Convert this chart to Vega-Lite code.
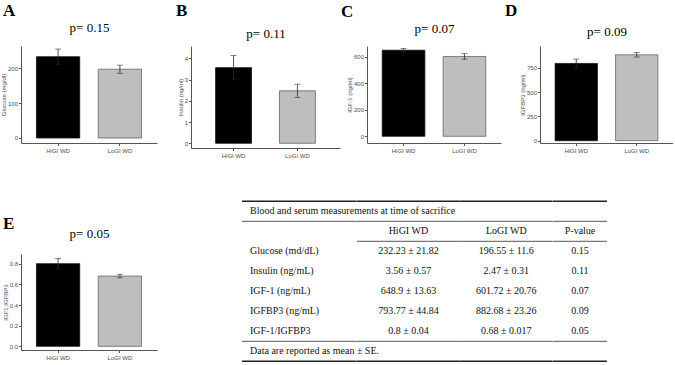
{
  "$schema": "https://vega.github.io/schema/vega-lite/v6.json",
  "background": "white",
  "padding": {"left": 0, "top": 2, "right": 0, "bottom": 0},
  "datasets": {
    "bars": [
      {"panel": "A", "group": "HiGI WD", "mean": 232.23, "lo": 210.41, "hi": 254.05},
      {"panel": "A", "group": "LoGI WD", "mean": 196.55, "lo": 184.95, "hi": 208.15},
      {"panel": "B", "group": "HiGI WD", "mean": 3.56, "lo": 2.99, "hi": 4.13},
      {"panel": "B", "group": "LoGI WD", "mean": 2.47, "lo": 2.16, "hi": 2.78},
      {"panel": "C", "group": "HiGI WD", "mean": 648.9, "lo": 635.27, "hi": 662.53},
      {"panel": "C", "group": "LoGI WD", "mean": 601.72, "lo": 580.96, "hi": 622.48},
      {"panel": "D", "group": "HiGI WD", "mean": 793.77, "lo": 748.93, "hi": 838.61},
      {"panel": "D", "group": "LoGI WD", "mean": 882.68, "lo": 859.42, "hi": 905.94},
      {"panel": "E", "group": "HiGI WD", "mean": 0.8, "lo": 0.75, "hi": 0.85},
      {"panel": "E", "group": "LoGI WD", "mean": 0.68, "lo": 0.663, "hi": 0.697}
    ],
    "table": [
      {"row": "title", "label": "Blood and serum measurements at time of sacrifice", "hi": "", "lo": "", "p": ""},
      {"row": "header", "label": "", "hi": "HiGI WD", "lo": "LoGI WD", "p": "P-value"},
      {"row": "glucose", "label": "Glucose (md/dL)", "hi": "232.23 ±  21.82", "lo": "196.55 ± 11.6", "p": "0.15"},
      {"row": "insulin", "label": "Insulin (ng/mL)", "hi": "3.56 ± 0.57", "lo": "2.47 ±  0.31", "p": "0.11"},
      {"row": "igf1", "label": "IGF-1 (ng/mL)", "hi": "648.9 ± 13.63", "lo": "601.72 ± 20.76", "p": "0.07"},
      {"row": "igfbp3", "label": "IGFBP3 (ng/mL)", "hi": "793.77 ± 44.84", "lo": "882.68 ±  23.26", "p": "0.09"},
      {"row": "ratio", "label": "IGF-1/IGFBP3", "hi": "0.8 ± 0.04", "lo": "0.68 ± 0.017", "p": "0.05"},
      {"row": "note", "label": "Data are reported as mean ± SE.", "hi": "", "lo": "", "p": ""}
    ]
  },
  "bounds": "flush",
  "spacing": 155.3,
  "vconcat": [
    {
      "bounds": "flush",
      "spacing": 346,
      "hconcat": [
        {
          "bounds": "flush",
          "spacing": 34,
          "hconcat": [
            {
              "width": 136, "height": 97,
              "data": {"name": "bars"},
              "transform": [{"filter": "datum.panel === 'A'"}],
              "title": {"text": "A", "dx": -18},
              "layer": [
                {"mark": {"type": "bar", "strokeWidth": 0.8},
                 "encoding": {
                   "x": {"field": "group", "type": "nominal", "scale": {"paddingInner": 0.3, "paddingOuter": 0.25}, "axis": {"orient": "top", "title": "p= 0.15", "labels": false, "ticks": false, "domain": false, "titleFont": "Liberation Serif", "titleFontWeight": "normal", "titleFontSize": 13, "titleColor": "#000", "titlePadding": 11.5}},
                   "y": {"field": "mean", "type": "quantitative", "scale": {"domain": [-14.3, 262.9], "nice": false, "zero": false}, "axis": {"values": [0, 100, 200], "labelOverlap": false, "title": "Glucose (mg/dl)"}},
                   "y2": {"datum": 0},
                   "color": {"field": "group", "type": "nominal", "scale": {"range": ["#000000", "#bebebe"]}, "legend": null},
                   "stroke": {"field": "group", "type": "nominal", "scale": {"range": ["#111111", "#666666"]}, "legend": null}
                 }},
                {"mark": {"type": "rule", "color": "#2a2a2a", "strokeWidth": 0.8},
                 "encoding": {
                   "x": {"field": "group", "type": "nominal", "axis": {"title": null}},
                   "y": {"field": "lo", "type": "quantitative", "scale": {"domain": [-14.3, 262.9], "nice": false, "zero": false}, "axis": {"values": [0, 100, 200], "labelOverlap": false, "title": "Glucose (mg/dl)"}},
                   "y2": {"field": "hi"}
                 }},
                {"mark": {"type": "tick", "orient": "horizontal", "color": "#2a2a2a", "size": 6, "thickness": 0.8},
                 "encoding": {
                   "x": {"field": "group", "type": "nominal", "axis": null},
                   "y": {"field": "hi", "type": "quantitative", "scale": {"domain": [-14.3, 262.9], "nice": false, "zero": false}, "axis": {"values": [0, 100, 200], "labelOverlap": false, "title": "Glucose (mg/dl)"}}
                 }},
                {"mark": {"type": "tick", "orient": "horizontal", "color": "#2a2a2a", "size": 6, "thickness": 0.8},
                 "encoding": {
                   "x": {"field": "group", "type": "nominal", "axis": null},
                   "y": {"field": "lo", "type": "quantitative", "scale": {"domain": [-14.3, 262.9], "nice": false, "zero": false}, "axis": {"values": [0, 100, 200], "labelOverlap": false, "title": "Glucose (mg/dl)"}}
                 }}
              ],
              "resolve": {"axis": {"x": "independent"}}
            },
            {
              "width": 149, "height": 102,
              "data": {"name": "bars"},
              "transform": [{"filter": "datum.panel === 'B'"}],
              "title": {"text": "B", "dx": -15, "offset": 7.5},
              "layer": [
                {"mark": {"type": "bar", "strokeWidth": 0.8},
                 "encoding": {
                   "x": {"field": "group", "type": "nominal", "scale": {"paddingInner": 0.4375, "paddingOuter": 0.385}, "axis": {"orient": "top", "title": "p= 0.11", "labels": false, "ticks": false, "domain": false, "titleFont": "Liberation Serif", "titleFontWeight": "normal", "titleFontSize": 13, "titleColor": "#000", "titlePadding": 5.5}},
                   "y": {"field": "mean", "type": "quantitative", "scale": {"domain": [-0.221, 4.579], "nice": false, "zero": false}, "axis": {"values": [0, 1, 2, 3, 4], "labelOverlap": false, "title": "Insulin (ng/ml)"}},
                   "y2": {"datum": 0},
                   "color": {"field": "group", "type": "nominal", "scale": {"range": ["#000000", "#bebebe"]}, "legend": null},
                   "stroke": {"field": "group", "type": "nominal", "scale": {"range": ["#111111", "#666666"]}, "legend": null}
                 }},
                {"mark": {"type": "rule", "color": "#2a2a2a", "strokeWidth": 0.8},
                 "encoding": {
                   "x": {"field": "group", "type": "nominal", "axis": {"title": null}},
                   "y": {"field": "lo", "type": "quantitative", "scale": {"domain": [-0.221, 4.579], "nice": false, "zero": false}, "axis": {"values": [0, 1, 2, 3, 4], "labelOverlap": false, "title": "Insulin (ng/ml)"}},
                   "y2": {"field": "hi"}
                 }},
                {"mark": {"type": "tick", "orient": "horizontal", "color": "#2a2a2a", "size": 6, "thickness": 0.8},
                 "encoding": {
                   "x": {"field": "group", "type": "nominal", "axis": null},
                   "y": {"field": "hi", "type": "quantitative", "scale": {"domain": [-0.221, 4.579], "nice": false, "zero": false}, "axis": {"values": [0, 1, 2, 3, 4], "labelOverlap": false, "title": "Insulin (ng/ml)"}}
                 }},
                {"mark": {"type": "tick", "orient": "horizontal", "color": "#2a2a2a", "size": 6, "thickness": 0.8},
                 "encoding": {
                   "x": {"field": "group", "type": "nominal", "axis": null},
                   "y": {"field": "lo", "type": "quantitative", "scale": {"domain": [-0.221, 4.579], "nice": false, "zero": false}, "axis": {"values": [0, 1, 2, 3, 4], "labelOverlap": false, "title": "Insulin (ng/ml)"}}
                 }}
              ],
              "resolve": {"axis": {"x": "independent"}}
            }
          ]
        },
        {
          "bounds": "flush",
          "spacing": 39,
          "hconcat": [
            {
              "width": 134, "height": 97,
              "data": {"name": "bars"},
              "transform": [{"filter": "datum.panel === 'C'"}],
              "title": {"text": "C", "dx": -26},
              "layer": [
                {"mark": {"type": "bar", "strokeWidth": 0.8},
                 "encoding": {
                   "x": {"field": "group", "type": "nominal", "scale": {"paddingInner": 0.3, "paddingOuter": 0.25}, "axis": {"orient": "top", "title": "p= 0.07", "labels": false, "ticks": false, "domain": false, "titleFont": "Liberation Serif", "titleFontWeight": "normal", "titleFontSize": 13, "titleColor": "#000", "titlePadding": 11}},
                   "y": {"field": "mean", "type": "quantitative", "scale": {"domain": [-50.5, 680.5], "nice": false, "zero": false}, "axis": {"values": [0, 200, 400, 600], "labelOverlap": false, "title": "IGF-1 (ng/ml)"}},
                   "y2": {"datum": 0},
                   "color": {"field": "group", "type": "nominal", "scale": {"range": ["#000000", "#bebebe"]}, "legend": null},
                   "stroke": {"field": "group", "type": "nominal", "scale": {"range": ["#111111", "#666666"]}, "legend": null}
                 }},
                {"mark": {"type": "rule", "color": "#2a2a2a", "strokeWidth": 0.8},
                 "encoding": {
                   "x": {"field": "group", "type": "nominal", "axis": {"title": null}},
                   "y": {"field": "lo", "type": "quantitative", "scale": {"domain": [-50.5, 680.5], "nice": false, "zero": false}, "axis": {"values": [0, 200, 400, 600], "labelOverlap": false, "title": "IGF-1 (ng/ml)"}},
                   "y2": {"field": "hi"}
                 }},
                {"mark": {"type": "tick", "orient": "horizontal", "color": "#2a2a2a", "size": 6, "thickness": 0.8},
                 "encoding": {
                   "x": {"field": "group", "type": "nominal", "axis": null},
                   "y": {"field": "hi", "type": "quantitative", "scale": {"domain": [-50.5, 680.5], "nice": false, "zero": false}, "axis": {"values": [0, 200, 400, 600], "labelOverlap": false, "title": "IGF-1 (ng/ml)"}}
                 }},
                {"mark": {"type": "tick", "orient": "horizontal", "color": "#2a2a2a", "size": 6, "thickness": 0.8},
                 "encoding": {
                   "x": {"field": "group", "type": "nominal", "axis": null},
                   "y": {"field": "lo", "type": "quantitative", "scale": {"domain": [-50.5, 680.5], "nice": false, "zero": false}, "axis": {"values": [0, 200, 400, 600], "labelOverlap": false, "title": "IGF-1 (ng/ml)"}}
                 }}
              ],
              "resolve": {"axis": {"x": "independent"}}
            },
            {
              "width": 133, "height": 97,
              "data": {"name": "bars"},
              "transform": [{"filter": "datum.panel === 'D'"}],
              "title": {"text": "D", "dx": -35, "offset": 5.5},
              "layer": [
                {"mark": {"type": "bar", "strokeWidth": 0.8},
                 "encoding": {
                   "x": {"field": "group", "type": "nominal", "scale": {"paddingInner": 0.3, "paddingOuter": 0.25}, "axis": {"orient": "top", "title": "p= 0.09", "labels": false, "ticks": false, "domain": false, "titleFont": "Liberation Serif", "titleFontWeight": "normal", "titleFontSize": 13, "titleColor": "#000", "titlePadding": 7.5}},
                   "y": {"field": "mean", "type": "quantitative", "scale": {"domain": [-23.6, 972.9], "nice": false, "zero": false}, "axis": {"values": [0, 250, 500, 750], "labelOverlap": false, "title": "IGFBP3 (ng/ml)"}},
                   "y2": {"datum": 0},
                   "color": {"field": "group", "type": "nominal", "scale": {"range": ["#000000", "#bebebe"]}, "legend": null},
                   "stroke": {"field": "group", "type": "nominal", "scale": {"range": ["#111111", "#666666"]}, "legend": null}
                 }},
                {"mark": {"type": "rule", "color": "#2a2a2a", "strokeWidth": 0.8},
                 "encoding": {
                   "x": {"field": "group", "type": "nominal", "axis": {"title": null}},
                   "y": {"field": "lo", "type": "quantitative", "scale": {"domain": [-23.6, 972.9], "nice": false, "zero": false}, "axis": {"values": [0, 250, 500, 750], "labelOverlap": false, "title": "IGFBP3 (ng/ml)"}},
                   "y2": {"field": "hi"}
                 }},
                {"mark": {"type": "tick", "orient": "horizontal", "color": "#2a2a2a", "size": 6, "thickness": 0.8},
                 "encoding": {
                   "x": {"field": "group", "type": "nominal", "axis": null},
                   "y": {"field": "hi", "type": "quantitative", "scale": {"domain": [-23.6, 972.9], "nice": false, "zero": false}, "axis": {"values": [0, 250, 500, 750], "labelOverlap": false, "title": "IGFBP3 (ng/ml)"}}
                 }},
                {"mark": {"type": "tick", "orient": "horizontal", "color": "#2a2a2a", "size": 6, "thickness": 0.8},
                 "encoding": {
                   "x": {"field": "group", "type": "nominal", "axis": null},
                   "y": {"field": "lo", "type": "quantitative", "scale": {"domain": [-23.6, 972.9], "nice": false, "zero": false}, "axis": {"values": [0, 250, 500, 750], "labelOverlap": false, "title": "IGFBP3 (ng/ml)"}}
                 }}
              ],
              "resolve": {"axis": {"x": "independent"}}
            }
          ]
        }
      ]
    },
    {
      "bounds": "flush",
      "spacing": 221,
      "hconcat": [
        {
          "bounds": "flush",
          "spacing": 32.7,
          "vconcat": [
            {
              "width": 136, "height": 20,
              "data": {"values": [{"s": ""}]},
              "mark": {"type": "text"},
              "encoding": {"text": {"field": "s"}}
            },
            {
              "width": 136, "height": 96,
              "data": {"name": "bars"},
              "transform": [{"filter": "datum.panel === 'E'"}],
              "title": {"text": "E", "dx": -18, "offset": -5.5},
              "layer": [
                {"mark": {"type": "bar", "strokeWidth": 0.8},
                 "encoding": {
                   "x": {"field": "group", "type": "nominal", "scale": {"paddingInner": 0.3, "paddingOuter": 0.25}, "axis": {"orient": "top", "title": "p= 0.05", "labels": false, "ticks": false, "domain": false, "titleFont": "Liberation Serif", "titleFontWeight": "normal", "titleFontSize": 13, "titleColor": "#000", "titlePadding": 14}},
                   "y": {"field": "mean", "type": "quantitative", "scale": {"domain": [-0.0358, 0.894], "nice": false, "zero": false}, "axis": {"values": [0, 0.2, 0.4, 0.6, 0.8], "format": ".1f", "labelOverlap": false, "title": "IGF1:IGFBP3"}},
                   "y2": {"datum": 0},
                   "color": {"field": "group", "type": "nominal", "scale": {"range": ["#000000", "#bebebe"]}, "legend": null},
                   "stroke": {"field": "group", "type": "nominal", "scale": {"range": ["#111111", "#666666"]}, "legend": null}
                 }},
                {"mark": {"type": "rule", "color": "#2a2a2a", "strokeWidth": 0.8},
                 "encoding": {
                   "x": {"field": "group", "type": "nominal", "axis": {"title": null}},
                   "y": {"field": "lo", "type": "quantitative", "scale": {"domain": [-0.0358, 0.894], "nice": false, "zero": false}, "axis": {"values": [0, 0.2, 0.4, 0.6, 0.8], "format": ".1f", "labelOverlap": false, "title": "IGF1:IGFBP3"}},
                   "y2": {"field": "hi"}
                 }},
                {"mark": {"type": "tick", "orient": "horizontal", "color": "#2a2a2a", "size": 6, "thickness": 0.8},
                 "encoding": {
                   "x": {"field": "group", "type": "nominal", "axis": null},
                   "y": {"field": "hi", "type": "quantitative", "scale": {"domain": [-0.0358, 0.894], "nice": false, "zero": false}, "axis": {"values": [0, 0.2, 0.4, 0.6, 0.8], "format": ".1f", "labelOverlap": false, "title": "IGF1:IGFBP3"}}
                 }},
                {"mark": {"type": "tick", "orient": "horizontal", "color": "#2a2a2a", "size": 6, "thickness": 0.8},
                 "encoding": {
                   "x": {"field": "group", "type": "nominal", "axis": null},
                   "y": {"field": "lo", "type": "quantitative", "scale": {"domain": [-0.0358, 0.894], "nice": false, "zero": false}, "axis": {"values": [0, 0.2, 0.4, 0.6, 0.8], "format": ".1f", "labelOverlap": false, "title": "IGF1:IGFBP3"}}
                 }}
              ],
              "resolve": {"axis": {"x": "independent"}}
            }
          ]
        },
        {
          "bounds": "flush",
          "spacing": 0,
          "hconcat": [
            {
              "width": 114.6, "height": 160,
              "data": {"name": "table"},
              "layer": [
                {"mark": {"type": "text", "align": "left", "baseline": "middle", "font": "Liberation Serif", "fontSize": 10, "color": "#111111"},
                 "encoding": {
                   "x": {"datum": 0, "type": "quantitative", "scale": {"domain": [-8, 106.6]}, "axis": null},
                   "y": {"field": "row", "type": "nominal", "scale": {"type": "band", "domain": ["title", "header", "glucose", "insulin", "igf1", "igfbp3", "ratio", "note"], "paddingInner": 0, "paddingOuter": 0}, "axis": null},
                   "text": {"field": "label"}
                 }},
                {"transform": [{"filter": "datum.row === 'title'"}],
                 "mark": {"type": "rule", "strokeWidth": 1.6, "color": "#222222"},
                 "encoding": {"y": {"field": "row", "type": "nominal", "bandPosition": 0}}},
                {"transform": [{"filter": "datum.row === 'header' || datum.row === 'note'"}],
                 "mark": {"type": "rule", "strokeWidth": 1, "color": "#555555"},
                 "encoding": {"y": {"field": "row", "type": "nominal", "bandPosition": 0}}},
                {"transform": [{"filter": "datum.row === 'note'"}],
                 "mark": {"type": "rule", "strokeWidth": 1.6, "color": "#222222"},
                 "encoding": {"y": {"field": "row", "type": "nominal", "bandPosition": 1}}}
              ]
            },
            {
              "width": 102.8, "height": 160,
              "data": {"name": "table"},
              "layer": [
                {"mark": {"type": "text", "align": "center", "baseline": "middle", "font": "Liberation Serif", "fontSize": 10, "color": "#111111"},
                 "encoding": {
                   "y": {"field": "row", "type": "nominal", "scale": {"type": "band", "domain": ["title", "header", "glucose", "insulin", "igf1", "igfbp3", "ratio", "note"], "paddingInner": 0, "paddingOuter": 0}, "axis": null},
                   "text": {"field": "hi"}
                 }},
                {"transform": [{"filter": "datum.row === 'title'"}],
                 "mark": {"type": "rule", "strokeWidth": 1.6, "color": "#222222"},
                 "encoding": {"y": {"field": "row", "type": "nominal", "bandPosition": 0}}},
                {"transform": [{"filter": "datum.row === 'header' || datum.row === 'note' || datum.row === 'glucose'"}],
                 "mark": {"type": "rule", "strokeWidth": 1, "color": "#555555"},
                 "encoding": {"y": {"field": "row", "type": "nominal", "bandPosition": 0}}},
                {"transform": [{"filter": "datum.row === 'note'"}],
                 "mark": {"type": "rule", "strokeWidth": 1.6, "color": "#222222"},
                 "encoding": {"y": {"field": "row", "type": "nominal", "bandPosition": 1}}}
              ]
            },
            {
              "width": 92.6, "height": 160,
              "data": {"name": "table"},
              "layer": [
                {"mark": {"type": "text", "align": "center", "baseline": "middle", "font": "Liberation Serif", "fontSize": 10, "color": "#111111"},
                 "encoding": {
                   "y": {"field": "row", "type": "nominal", "scale": {"type": "band", "domain": ["title", "header", "glucose", "insulin", "igf1", "igfbp3", "ratio", "note"], "paddingInner": 0, "paddingOuter": 0}, "axis": null},
                   "text": {"field": "lo"}
                 }},
                {"transform": [{"filter": "datum.row === 'title'"}],
                 "mark": {"type": "rule", "strokeWidth": 1.6, "color": "#222222"},
                 "encoding": {"y": {"field": "row", "type": "nominal", "bandPosition": 0}}},
                {"transform": [{"filter": "datum.row === 'header' || datum.row === 'note' || datum.row === 'glucose'"}],
                 "mark": {"type": "rule", "strokeWidth": 1, "color": "#555555"},
                 "encoding": {"y": {"field": "row", "type": "nominal", "bandPosition": 0}}},
                {"transform": [{"filter": "datum.row === 'note'"}],
                 "mark": {"type": "rule", "strokeWidth": 1.6, "color": "#222222"},
                 "encoding": {"y": {"field": "row", "type": "nominal", "bandPosition": 1}}}
              ]
            },
            {
              "width": 54, "height": 160,
              "data": {"name": "table"},
              "layer": [
                {"mark": {"type": "text", "align": "center", "baseline": "middle", "font": "Liberation Serif", "fontSize": 10, "color": "#111111"},
                 "encoding": {
                   "y": {"field": "row", "type": "nominal", "scale": {"type": "band", "domain": ["title", "header", "glucose", "insulin", "igf1", "igfbp3", "ratio", "note"], "paddingInner": 0, "paddingOuter": 0}, "axis": null},
                   "text": {"field": "p"}
                 }},
                {"transform": [{"filter": "datum.row === 'title'"}],
                 "mark": {"type": "rule", "strokeWidth": 1.6, "color": "#222222"},
                 "encoding": {"y": {"field": "row", "type": "nominal", "bandPosition": 0}}},
                {"transform": [{"filter": "datum.row === 'header' || datum.row === 'note' || datum.row === 'glucose'"}],
                 "mark": {"type": "rule", "strokeWidth": 1, "color": "#555555"},
                 "encoding": {"y": {"field": "row", "type": "nominal", "bandPosition": 0}}},
                {"transform": [{"filter": "datum.row === 'note'"}],
                 "mark": {"type": "rule", "strokeWidth": 1.6, "color": "#222222"},
                 "encoding": {"y": {"field": "row", "type": "nominal", "bandPosition": 1}}}
              ]
            }
          ]
        }
      ]
    }
  ],
  "config": {
    "view": {"stroke": null},
    "title": {"font": "Liberation Serif", "fontSize": 17, "fontWeight": "bold", "color": "#000000", "anchor": "start", "frame": "group", "offset": 1.5},
    "axis": {"grid": false, "domainColor": "#555555", "domainWidth": 1, "tickColor": "#555555", "tickSize": 2.5, "labelColor": "#4d4d4d", "labelFont": "Liberation Sans", "labelFontSize": 6, "labelPadding": 1, "labelOverlap": false, "labelFlush": false, "titleFont": "Liberation Sans", "titleFontSize": 6, "titleFontWeight": "normal", "titleColor": "#4d4d4d", "titlePadding": 1},
    "axisX": {"labelAngle": 0, "labelPadding": 2}
  }
}
